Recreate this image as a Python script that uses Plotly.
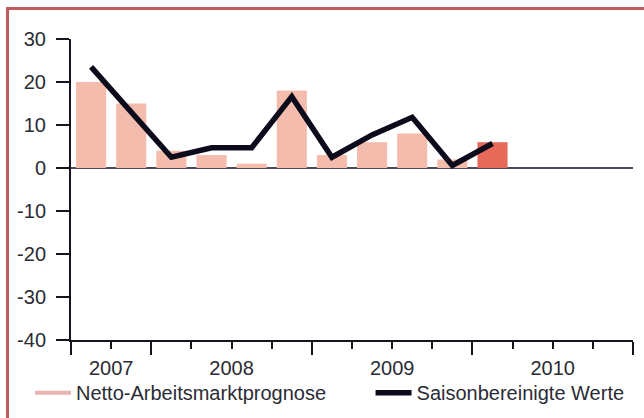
import plotly.graph_objects as go

# quarters from Q3 2007 to Q1 2010 (slot index on a quarterly axis starting at Q3 2007)
quarters = ['2007Q3', '2007Q4', '2008Q1', '2008Q2', '2008Q3', '2008Q4',
            '2009Q1', '2009Q2', '2009Q3', '2009Q4', '2010Q1']
prognose = [20, 15, 4, 3, 1, 18, 3, 6, 8, 2, 6]
saison = [23.5, 13, 2.5, 4.7, 4.7, 16.6, 2.5, 7.7, 11.8, 0.6, 5.7]
years = ['2007', '2008', '2009', '2010']
year_pos = [1, 4, 8, 12]          # centre of each year's span on the slot axis
year_bounds = [0, 2, 6, 10, 14]   # long ticks
quarter_ticks = [1, 3, 4, 5, 7, 8, 9, 11, 12, 13]
yticks = list(range(-40, 31, 10))

x = [i + 0.5 for i in range(len(quarters))]
bar_colors = ['#f4bcad'] * (len(quarters) - 1) + ['#e6695a']

font = dict(family='Liberation Sans, Arial, sans-serif', size=20, color='#2b2b35')
axcol = '#14141f'

fig = go.Figure()
fig.add_trace(go.Bar(x=x, y=prognose, marker_color=bar_colors, marker_line_width=0,
                     showlegend=False, name='Netto-Arbeitsmarktprognose'))
# legend stand-in so the bar series shows as a line sample, like the original
fig.add_trace(go.Scatter(x=[None], y=[None], mode='lines', line=dict(color='#e8b5b3', width=4),
                         name='Netto-Arbeitsmarktprognose', legend='legend'))
fig.add_trace(go.Scatter(x=x, y=saison, mode='lines', line=dict(color='#0b0b1c', width=5.5),
                         name='Saisonbereinigte Werte', xaxis='x2', legend='legend2'))

fig.update_layout(
    width=644, height=418, margin=dict(l=71, r=11, t=39, b=78, autoexpand=False),
    paper_bgcolor='white', plot_bgcolor='white', font=font, bargap=0.25,
    legend=dict(orientation='h', x=-0.073, xanchor='left', y=-0.175, yanchor='middle',
                font=font, itemwidth=36, bgcolor='rgba(0,0,0,0)'),
    legend2=dict(orientation='h', x=0.533, xanchor='left', y=-0.175, yanchor='middle',
                 font=font, itemwidth=36, bgcolor='rgba(0,0,0,0)'),
    xaxis=dict(range=[0, 14], tickvals=year_bounds, ticks='outside', ticklen=13, tickwidth=2,
               tickcolor=axcol, showticklabels=False, showline=True, linecolor=axcol,
               linewidth=2, showgrid=False, zeroline=False,
               minor=dict(tickvals=quarter_ticks, ticks='outside', ticklen=7, tickwidth=2,
                          tickcolor=axcol, showgrid=False)),
    xaxis2=dict(overlaying='x', matches='x', anchor='y', side='bottom', range=[0, 14],
                tickvals=year_pos, ticktext=years, ticks='', ticklabelstandoff=14,
                showgrid=False, zeroline=False, showline=False),
    yaxis=dict(range=[-40, 30], tickvals=yticks, ticktext=[str(v) for v in yticks],
               ticks='outside', ticklen=13, tickwidth=2, tickcolor=axcol, ticklabelstandoff=6,
               showline=True, linecolor=axcol, linewidth=2, showgrid=False, zeroline=True,
               zerolinecolor='#4a4a5c', zerolinewidth=2),
)

# red frame around the graphic
fig.add_shape(type='rect', xref='paper', yref='paper', x0=-0.113, x1=1.05, y0=-0.3, y1=1.101,
              line=dict(color='#c15a5b', width=3), layer='above')

# page margin off so the 644x418 figure sits at the window's corner
fig.write_html("out.html", config={'displayModeBar': False},
               post_script="document.body.style.margin='0';")
